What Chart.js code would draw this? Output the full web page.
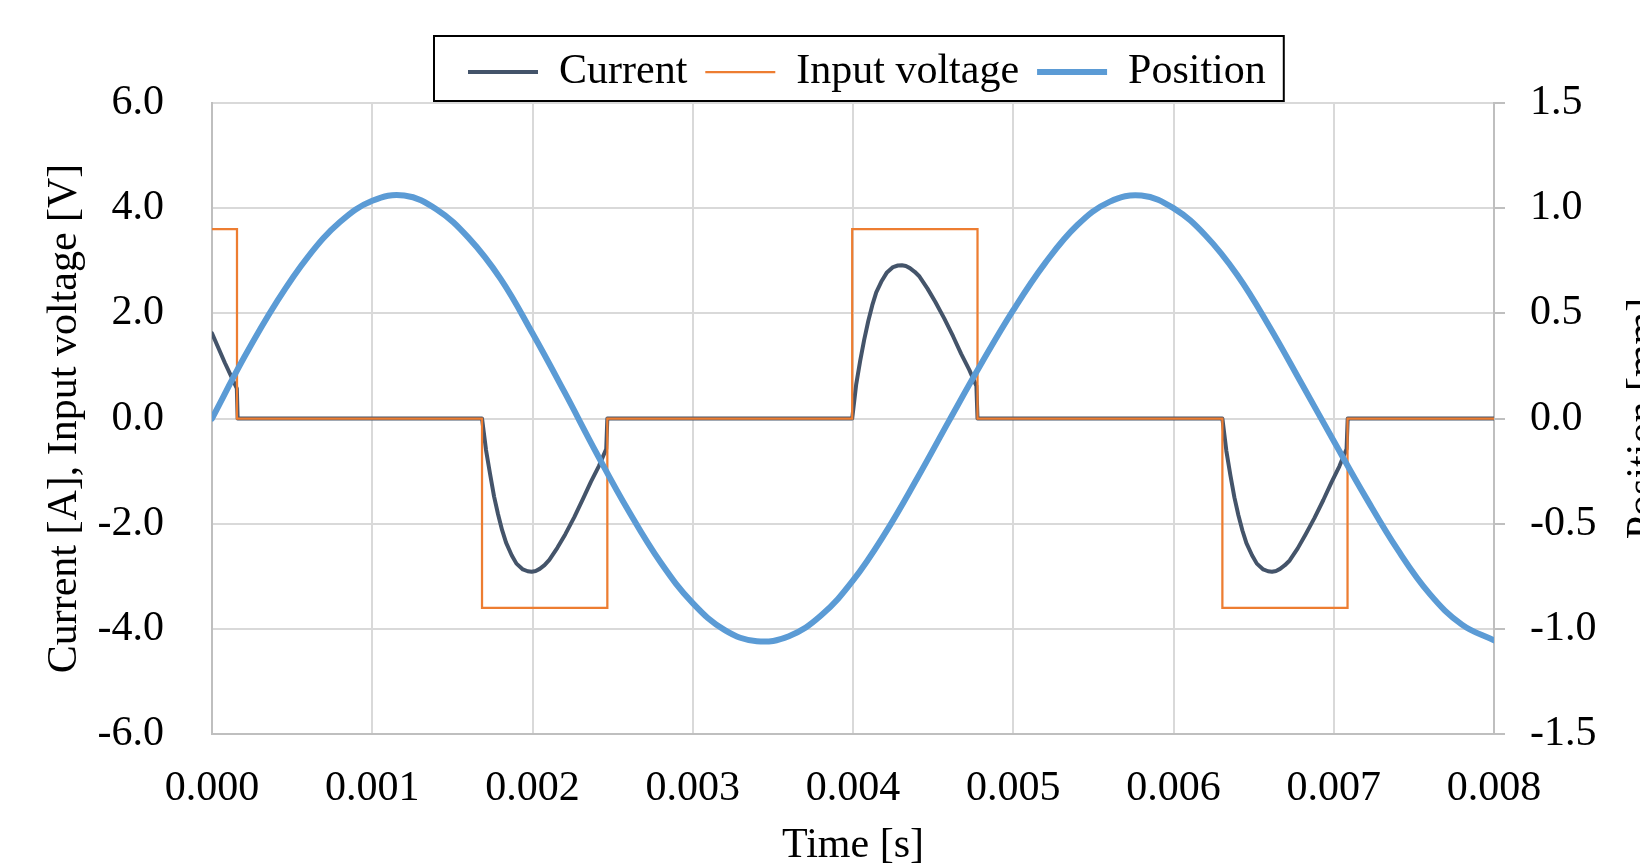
<!DOCTYPE html>
<html>
<head>
<meta charset="utf-8">
<script src="https://cdn.jsdelivr.net/npm/chart.js@4"></script>
<style>
  body { margin: 0; background: #fff; }
  canvas { display: block; }
</style>
</head>
<body>
<canvas id="chart" width="1640" height="867"></canvas>
<script>
// time in seconds
const posTime = [0, 0.0002, 0.0004, 0.0006, 0.0008, 0.0010, 0.0012, 0.0014, 0.0016, 0.0018,
  0.0020, 0.0022, 0.0024, 0.0026, 0.0028, 0.0030, 0.0032, 0.0034, 0.0036, 0.0038,
  0.0040, 0.0042, 0.0044, 0.0046, 0.0048, 0.0050, 0.0052, 0.0054, 0.0056, 0.0058,
  0.0060, 0.0062, 0.0064, 0.0066, 0.0068, 0.0070, 0.0072, 0.0074, 0.0076, 0.0078, 0.0080];
const posValue = [0, 0.29, 0.55, 0.77, 0.935, 1.035, 1.06, 0.995, 0.86, 0.665,
  0.405, 0.125, -0.165, -0.44, -0.685, -0.878, -1.006, -1.059, -1.035, -0.937,
  -0.77, -0.546, -0.285, -0.01, 0.26, 0.515, 0.74, 0.92, 1.03, 1.06,
  1.0, 0.87, 0.68, 0.435, 0.165, -0.107, -0.375, -0.625, -0.835, -0.98, -1.055];

const voltTime = [0, 0.000156, 0.000156, 0.001685, 0.001685, 0.002467, 0.002467, 0.003995,
  0.003995, 0.004777, 0.004777, 0.006305, 0.006305, 0.007086, 0.007086, 0.008];
const voltValue = [3.6, 3.6, 0, 0, -3.6, -3.6, 0, 0, 3.6, 3.6, 0, 0, -3.6, -3.6, 0, 0];

const currTime = [0, 0.00004, 0.00008, 0.00012, 0.000155, 0.00016,
  0.001685, 0.00171, 0.001735, 0.00176, 0.001785, 0.00181, 0.001835, 0.00187, 0.0019, 0.00194, 0.00197,
  0.001995, 0.00202, 0.002045, 0.002075, 0.002105, 0.002155, 0.002205, 0.00226, 0.002315, 0.002365, 0.002415, 0.00246, 0.002467,
  0.003995, 0.00402, 0.004045, 0.00407, 0.004095, 0.00412, 0.004145, 0.00418, 0.00421, 0.00425, 0.00428,
  0.004305, 0.00433, 0.004355, 0.004385, 0.004415, 0.004465, 0.004515, 0.00457, 0.004625, 0.004675, 0.004725, 0.00477, 0.004777,
  0.006305, 0.00633, 0.006355, 0.00638, 0.006405, 0.00643, 0.006455, 0.00649, 0.00652, 0.00656, 0.00659,
  0.006615, 0.00664, 0.006665, 0.006695, 0.006725, 0.006775, 0.006825, 0.00688, 0.006935, 0.006985, 0.007035, 0.00708, 0.007087,
  0.008];
const currValue = [1.62, 1.34, 1.06, 0.8, 0.57, 0,
  0, -0.6, -1.05, -1.48, -1.82, -2.12, -2.36, -2.6, -2.76, -2.87, -2.905,
  -2.915, -2.9, -2.86, -2.79, -2.69, -2.46, -2.2, -1.88, -1.53, -1.2, -0.9, -0.58, 0,
  0, 0.65, 1.1, 1.5, 1.85, 2.15, 2.4, 2.62, 2.77, 2.88, 2.91,
  2.915, 2.9, 2.86, 2.79, 2.7, 2.47, 2.21, 1.9, 1.56, 1.23, 0.93, 0.62, 0,
  0, -0.62, -1.08, -1.5, -1.84, -2.13, -2.37, -2.6, -2.76, -2.87, -2.905,
  -2.915, -2.9, -2.86, -2.79, -2.7, -2.47, -2.2, -1.89, -1.55, -1.22, -0.91, -0.58, 0,
  0];

const seriesNames = ["Current", "Input voltage", "Position"];
const leftTitle = "Current [A], Input voltage [V]";
const rightTitle = "Position [mm]";
const bottomTitle = "Time [s]";

const FONT = '"Liberation Serif", "Times New Roman", serif';
const font42 = {family: FONT, size: 42};

function pts(xs, ys) {
  return xs.map((x, i) => ({x: x, y: ys[i]}));
}

const legendFrame = {
  id: "legendFrame",
  afterLayout(chart) {
    // Excel puts the legend a bit right of centre
    const lg = chart.legend;
    const pad = lg.options.labels.padding;
    const x0 = (lg.left + pad + lg.right - lg.lineWidths[0]) / 2;
    const shift = 468 - x0;
    lg.left += shift;
    lg.right += shift;
  },
  afterDraw(chart) {
    const ctx = chart.ctx;
    const lg = chart.legend;
    const pad = lg.options.labels.padding;
    const x0 = (lg.left + pad + lg.right - lg.lineWidths[0]) / 2;
    const rowW = lg.lineWidths[0] - pad;
    ctx.save();
    ctx.strokeStyle = "#000";
    ctx.lineWidth = 2;
    ctx.strokeRect(x0 - 34, lg.top + 3, rowW + 52, chart.chartArea.top - 2 - (lg.top + 3));
    // right axis title, cut by the edge like the original
    const a = chart.chartArea;
    ctx.font = "42px " + FONT;
    ctx.fillStyle = "#000";
    ctx.translate(chart.scales.y1.right + 15, (a.top + a.bottom) / 2);
    ctx.rotate(-Math.PI / 2);
    ctx.textAlign = "center";
    ctx.textBaseline = "alphabetic";
    ctx.fillText(rightTitle, 0, 0);
    ctx.restore();
  }
};

new Chart(document.getElementById("chart"), {
  type: "line",
  data: {
    datasets: [{
      label: seriesNames[0],
      data: pts(currTime, currValue),
      borderColor: "#44546A",
      borderWidth: 4,
      borderCapStyle: "round",
      borderJoinStyle: "round",
      pointRadius: 0,
      tension: 0,
      yAxisID: "y",
      order: 2
    }, {
      label: seriesNames[1],
      data: pts(voltTime, voltValue),
      borderColor: "#ED7D31",
      borderWidth: 2.25,
      borderCapStyle: "round",
      pointRadius: 0,
      tension: 0,
      yAxisID: "y",
      order: 1
    }, {
      label: seriesNames[2],
      data: pts(posTime, posValue),
      borderColor: "#5B9BD5",
      borderWidth: 6,
      borderCapStyle: "round",
      pointRadius: 0,
      tension: 0.4,
      yAxisID: "y1",
      order: 0
    }]
  },
  options: {
    responsive: false,
    animation: false,
    layout: {padding: {top: 33, left: 0, right: 0, bottom: 0}},
    plugins: {
      legend: {
        position: "top",
        labels: {
          usePointStyle: true,
          pointStyle: "line",
          pointStyleWidth: 70,
          boxWidth: 70,
          padding: 18,
          color: "#000",
          font: font42,
          sort: (a, b) => a.datasetIndex - b.datasetIndex
        }
      },
      tooltip: {enabled: false}
    },
    scales: {
      x: {
        type: "linear",
        min: 0,
        max: 0.008,
        ticks: {stepSize: 0.001, callback: v => v.toFixed(3), color: "#000", font: font42, padding: 30, maxRotation: 0},
        grid: {color: "#D9D9D9", lineWidth: 2, drawTicks: false},
        border: {color: "#BFBFBF", width: 2},
        title: {display: true, text: bottomTitle, color: "#000", font: {family: FONT, size: 42, lineHeight: 1.0}, padding: {top: 0, bottom: 0}},
        afterFit: s => { s.height = 133; }
      },
      y: {
        position: "left",
        min: -6,
        max: 6,
        ticks: {stepSize: 2, callback: v => v.toFixed(1), color: "#000", font: font42, padding: 48},
        grid: {color: "#D9D9D9", lineWidth: 2, drawTicks: false},
        border: {color: "#BFBFBF", width: 2},
        title: {display: true, text: leftTitle, color: "#000", font: font42, padding: {top: 40, bottom: 0}},
        afterFit: s => { s.width = 212; }
      },
      y1: {
        position: "right",
        min: -1.5,
        max: 1.5,
        ticks: {stepSize: 0.5, callback: v => v.toFixed(1), color: "#000", font: font42, padding: 25},
        grid: {drawOnChartArea: false, drawTicks: true, tickLength: 11, color: "#BFBFBF", lineWidth: 2},
        border: {color: "#BFBFBF", width: 2},
        afterFit: s => { s.width = 146; }
      }
    }
  },
  plugins: [legendFrame]
});
</script>
</body>
</html>
